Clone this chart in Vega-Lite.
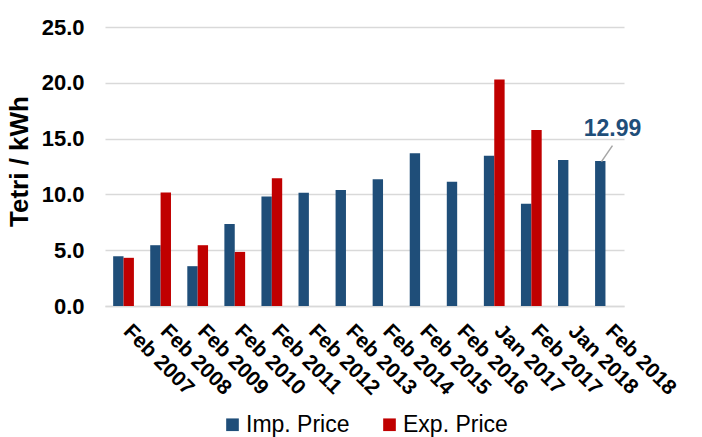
{
  "$schema": "https://vega.github.io/schema/vega-lite/v6.json",
  "width": 702,
  "height": 437,
  "autosize": {"type": "fit", "contains": "padding"},
  "padding": {"left": 6, "top": 16, "right": 29, "bottom": 0},
  "background": "white",
  "config": {
    "font": "Liberation Sans",
    "view": {"stroke": null},
    "legend": {"layout": {"bottom": {"anchor": "middle"}}}
  },
  "datasets": {
    "bars": [
      {"period": "Feb 2007", "series": "Imp. Price", "value": 4.46},
      {"period": "Feb 2007", "series": "Exp. Price", "value": 4.32},
      {"period": "Feb 2008", "series": "Imp. Price", "value": 5.45},
      {"period": "Feb 2008", "series": "Exp. Price", "value": 10.18},
      {"period": "Feb 2009", "series": "Imp. Price", "value": 3.57},
      {"period": "Feb 2009", "series": "Exp. Price", "value": 5.45},
      {"period": "Feb 2010", "series": "Imp. Price", "value": 7.35},
      {"period": "Feb 2010", "series": "Exp. Price", "value": 4.85},
      {"period": "Feb 2011", "series": "Imp. Price", "value": 9.82},
      {"period": "Feb 2011", "series": "Exp. Price", "value": 11.46},
      {"period": "Feb 2012", "series": "Imp. Price", "value": 10.15},
      {"period": "Feb 2013", "series": "Imp. Price", "value": 10.39},
      {"period": "Feb 2014", "series": "Imp. Price", "value": 11.37},
      {"period": "Feb 2015", "series": "Imp. Price", "value": 13.7},
      {"period": "Feb 2016", "series": "Imp. Price", "value": 11.13},
      {"period": "Jan 2017", "series": "Imp. Price", "value": 13.48},
      {"period": "Jan 2017", "series": "Exp. Price", "value": 20.3},
      {"period": "Feb 2017", "series": "Imp. Price", "value": 9.17},
      {"period": "Feb 2017", "series": "Exp. Price", "value": 15.78},
      {"period": "Jan 2018", "series": "Imp. Price", "value": 13.1},
      {"period": "Feb 2018", "series": "Imp. Price", "value": 12.99}
    ],
    "note": [
      {"period": "Feb 2018", "label": "12.99", "ty": 15.87, "y1": 12.95, "y2": 14.38}
    ]
  },
  "layer": [
    {
      "data": {"name": "bars"},
      "mark": {"type": "bar"},
      "encoding": {
        "x": {
          "field": "period",
          "type": "nominal",
          "sort": null,
          "scale": {
            "domain": ["Feb 2007", "Feb 2008", "Feb 2009", "Feb 2010", "Feb 2011", "Feb 2012", "Feb 2013", "Feb 2014", "Feb 2015", "Feb 2016", "Jan 2017", "Feb 2017", "Jan 2018", "Feb 2018"],
            "paddingInner": 0.44,
            "paddingOuter": 0.22
          },
          "axis": {
            "title": null,
            "labelAngle": 45,
            "labelAlign": "left",
            "labelBaseline": "top",
            "labelPadding": 14,
            "labelOffset": 11,
            "labelFontSize": 21,
            "labelFontWeight": "bold",
            "labelColor": "#000000",
            "ticks": false,
            "domain": true,
            "domainColor": "#d9d9d9",
            "domainWidth": 1.5,
            "grid": false
          }
        },
        "xOffset": {
          "field": "series",
          "type": "nominal",
          "scale": {"domain": ["Imp. Price", "Exp. Price"], "paddingInner": 0, "paddingOuter": 0}
        },
        "y": {
          "field": "value",
          "type": "quantitative",
          "scale": {"domain": [0, 25]},
          "axis": {
            "title": "Tetri / kWh",
            "titleFontSize": 26,
            "titleFontWeight": "bold",
            "titleColor": "#000000",
            "titlePadding": 9,
            "labelFontSize": 22,
            "labelFontWeight": "bold",
            "labelColor": "#000000",
            "labelPadding": 21,
            "format": ".1f",
            "values": [0, 5, 10, 15, 20, 25],
            "ticks": false,
            "domain": false,
            "gridColor": "#d9d9d9",
            "gridWidth": 1.5
          }
        },
        "color": {
          "field": "series",
          "type": "nominal",
          "scale": {"domain": ["Imp. Price", "Exp. Price"], "range": ["#1f4e79", "#c00000"]},
          "legend": {
            "title": null,
            "orient": "bottom",
            "direction": "horizontal",
            "offset": 14,
            "symbolType": "square",
            "symbolSize": 160,
            "symbolStrokeWidth": 0,
            "symbolOpacity": 1,
            "labelFontSize": 23,
            "labelColor": "#000000",
            "labelOffset": 2,
            "columnPadding": 28
          }
        }
      }
    },
    {
      "data": {"name": "note"},
      "mark": {"type": "rule", "color": "#a6a6a6", "strokeWidth": 1.5, "xOffset": -4, "x2Offset": 7},
      "encoding": {
        "x": {"field": "period", "type": "nominal"},
        "x2": {"field": "period"},
        "y": {"field": "y1", "type": "quantitative"},
        "y2": {"field": "y2"}
      }
    },
    {
      "data": {"name": "note"},
      "mark": {"type": "text", "color": "#1f4e79", "fontSize": 23, "fontWeight": "bold", "baseline": "middle", "align": "center", "dx": 7},
      "encoding": {
        "x": {"field": "period", "type": "nominal"},
        "y": {"field": "ty", "type": "quantitative"},
        "text": {"field": "label"}
      }
    }
  ]
}
